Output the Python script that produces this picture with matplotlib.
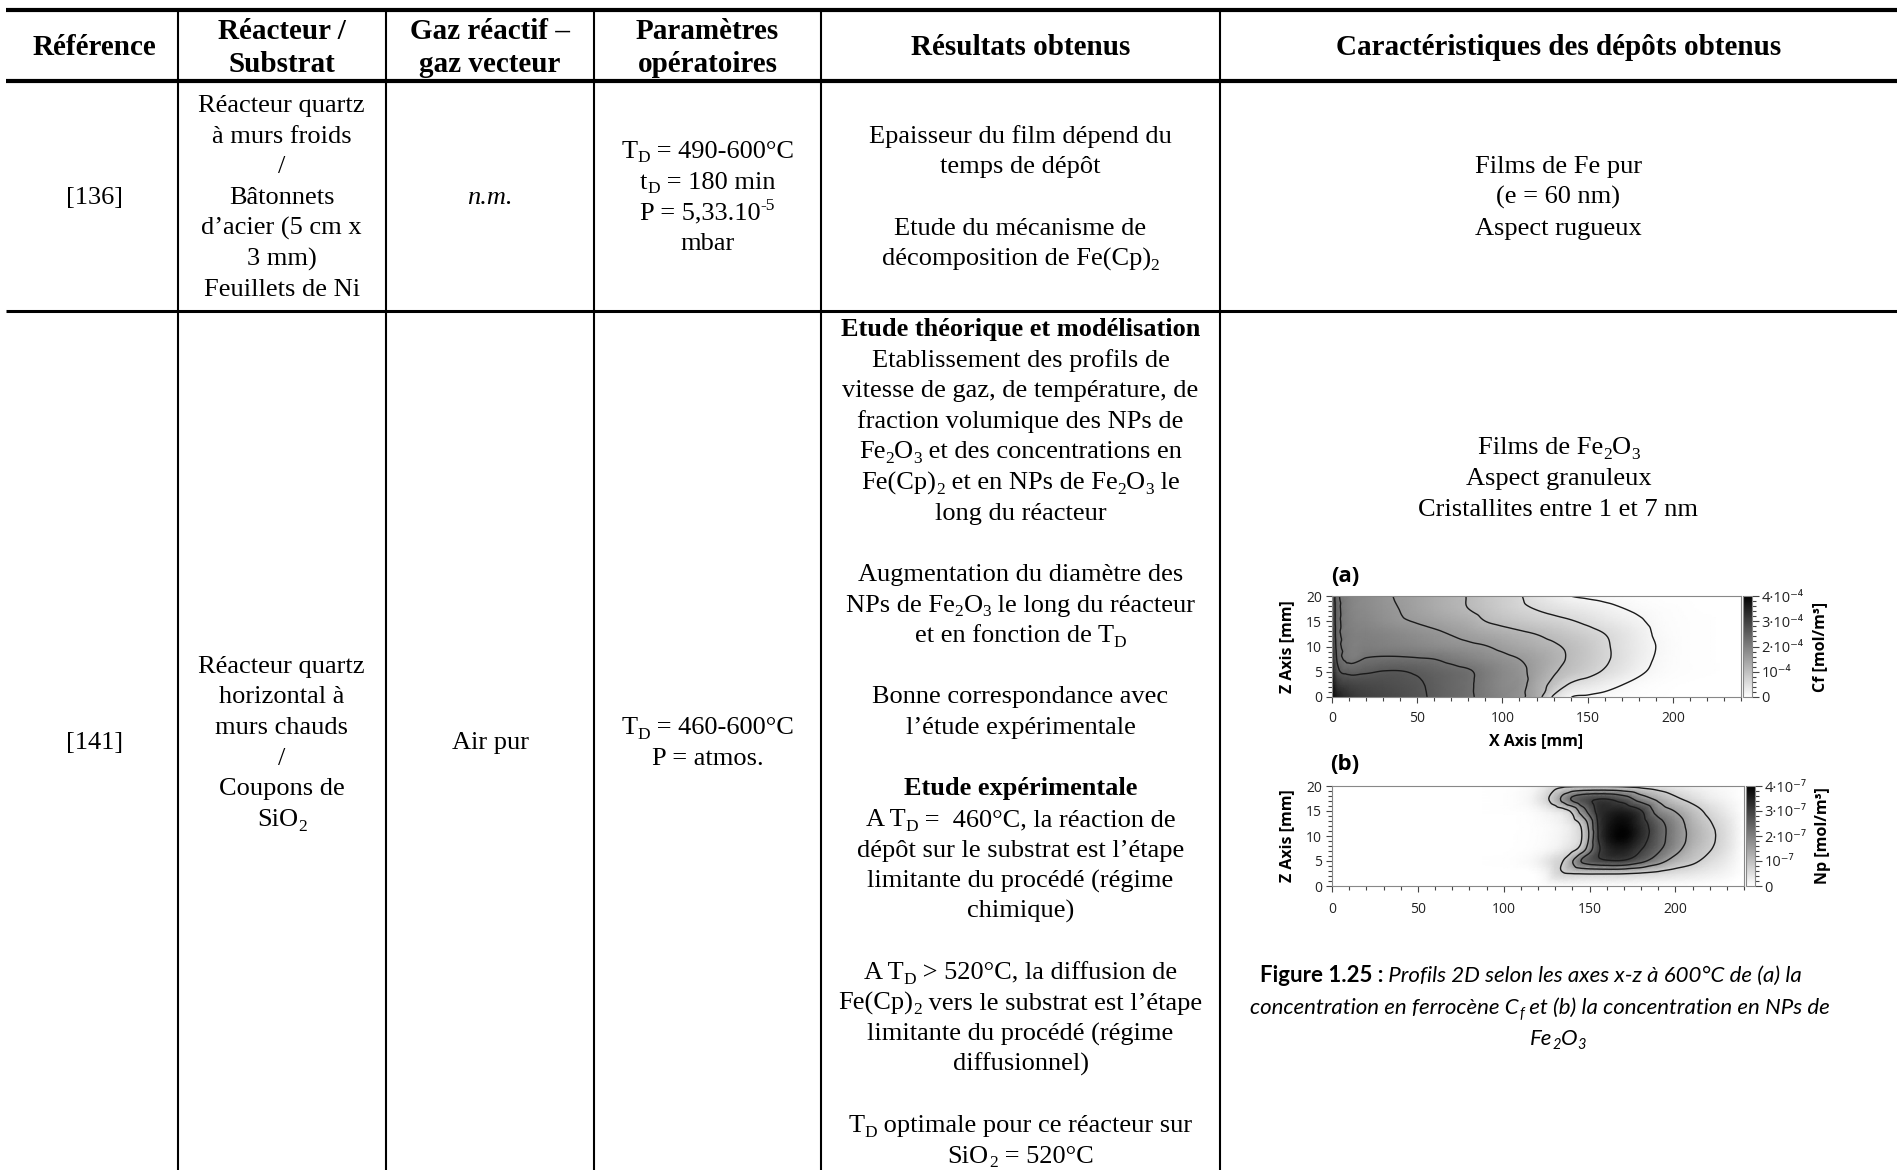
import re
import numpy as np
import matplotlib
matplotlib.use("Agg")
import matplotlib.pyplot as plt
import matplotlib.tri as mtri
from matplotlib.ticker import MultipleLocator
from matplotlib.colors import Normalize
from matplotlib.cm import ScalarMappable

plt.rcParams['font.family'] = ['Open Sans', 'DejaVu Sans']

# ---------------- table content ----------------
HEADERS = [["Référence"], ["Réacteur /", "Substrat"], ["Gaz réactif –", "gaz vecteur"],
           ["Paramètres", "opératoires"], ["Résultats obtenus"],
           ["Caractéristiques des dépôts obtenus"]]

R1_REF = ["[136]"]
R1_REACTOR = ["Réacteur quartz", "à murs froids", "/", "Bâtonnets", "d’acier (5 cm x", "3 mm)", "Feuillets de Ni"]
R1_GAS = ["n.m."]
R1_PARAMS = ["T_{D} = 490-600°C", "t_{D} = 180 min", "P = 5,33.10^{-5}", "mbar"]
R1_RESULTS = ["Epaisseur du film dépend du", "temps de dépôt", "", "Etude du mécanisme de",
              "décomposition de Fe(Cp)_{2}"]
R1_DEPOSITS = ["Films de Fe pur", "(e = 60 nm)", "Aspect rugueux"]

R2_REF = ["[141]"]
R2_REACTOR = ["Réacteur quartz", "horizontal à", "murs chauds", "/", "Coupons de", "SiO_{2}"]
R2_GAS = ["Air pur"]
R2_PARAMS = ["T_{D} = 460-600°C", "P = atmos."]
R2_RESULTS = ["Etude théorique et modélisation", "Etablissement des profils de",
              "vitesse de gaz, de température, de", "fraction volumique des NPs de",
              "Fe_{2}O_{3} et des concentrations en", "Fe(Cp)_{2} et en NPs de Fe_{2}O_{3} le",
              "long du réacteur", "", "Augmentation du diamètre des",
              "NPs de Fe_{2}O_{3} le long du réacteur", "et en fonction de T_{D}", "",
              "Bonne correspondance avec", "l’étude expérimentale", "", "Etude expérimentale",
              "A T_{D} =  460°C, la réaction de", "dépôt sur le substrat est l’étape",
              "limitante du procédé (régime", "chimique)", "", "A T_{D} > 520°C, la diffusion de",
              "Fe(Cp)_{2} vers le substrat est l’étape", "limitante du procédé (régime",
              "diffusionnel)", "", "T_{D} optimale pour ce réacteur sur", "SiO_{2} = 520°C"]
R2_RESULTS_BOLD = [0, 15]
R2_DEPOSITS = ["Films de Fe_{2}O_{3}", "Aspect granuleux", "Cristallites entre 1 et 7 nm"]

CAPTION = [
    [("Figure 1.25 :", "bold", "normal"), (" Profils 2D selon les axes x-z à 600°C de (a) la", "normal", "italic")],
    [("concentration en ferrocène C_{f} et (b) la concentration en NPs de", "normal", "italic")],
    [("Fe_{2}O_{3}", "normal", "italic")],
]

# ---------------- field data ----------------
# (a) ferrocene concentration Cf, in units of 1e-4 mol/m3
CF_X = [0, 3, 10, 20, 30, 40, 50, 60, 70, 80, 90, 100, 110, 120, 130, 140, 150, 160, 170, 180, 190, 200, 210, 220, 240]
CF_Z = [0, 2.5, 5, 7.5, 10, 12.5, 15, 17.5, 20]
CF_ROWS = [
    [4.0, 3.6, 3.2, 3.0, 2.9, 2.8, 2.68, 2.54, 2.4, 2.26, 2.08, 1.9, 1.7, 1.33, 0.53, 0.16, 0.11, 0.08, 0.05, 0.03, 0.02, 0.01, 0.0, 0.0, 0.0],
    [3.8, 3.2, 2.95, 2.85, 2.8, 2.73, 2.65, 2.52, 2.38, 2.26, 2.05, 1.85, 1.75, 1.36, 0.96, 0.55, 0.4, 0.27, 0.16, 0.08, 0.04, 0.02, 0.01, 0.0, 0.0],
    [3.6, 2.8, 2.5, 2.55, 2.62, 2.62, 2.55, 2.45, 2.35, 2.25, 2.05, 1.85, 1.7, 1.45, 1.15, 0.95, 0.75, 0.55, 0.38, 0.2, 0.1, 0.05, 0.03, 0.02, 0.0],
    [3.4, 2.55, 2.1, 2.23, 2.27, 2.27, 2.24, 2.2, 2.08, 1.96, 1.84, 1.72, 1.6, 1.44, 1.24, 1.04, 0.86, 0.66, 0.48, 0.28, 0.13, 0.06, 0.03, 0.02, 0.0],
    [3.2, 2.45, 2.05, 2.04, 2.0, 1.96, 1.9, 1.83, 1.76, 1.69, 1.62, 1.5, 1.38, 1.27, 1.16, 1.02, 0.86, 0.66, 0.48, 0.3, 0.15, 0.07, 0.03, 0.02, 0.0],
    [3.1, 2.4, 2.05, 1.98, 1.92, 1.84, 1.76, 1.68, 1.58, 1.48, 1.38, 1.28, 1.18, 1.09, 0.98, 0.86, 0.74, 0.6, 0.45, 0.28, 0.12, 0.06, 0.03, 0.02, 0.0],
    [3.0, 2.4, 2.0, 1.88, 1.76, 1.65, 1.57, 1.48, 1.38, 1.28, 1.1, 0.99, 0.89, 0.8, 0.72, 0.63, 0.52, 0.4, 0.3, 0.19, 0.09, 0.05, 0.03, 0.02, 0.0],
    [3.0, 2.4, 1.97, 1.82, 1.7, 1.59, 1.46, 1.34, 1.22, 1.1, 0.96, 0.82, 0.69, 0.58, 0.48, 0.39, 0.31, 0.23, 0.16, 0.1, 0.06, 0.04, 0.02, 0.01, 0.0],
    [3.0, 2.35, 1.97, 1.8, 1.67, 1.55, 1.44, 1.31, 1.19, 1.08, 0.91, 0.77, 0.63, 0.43, 0.28, 0.15, 0.1, 0.07, 0.05, 0.03, 0.02, 0.01, 0.01, 0.0, 0.0],
]
CF_LEVELS = [0.15, 0.6, 1.1, 1.6, 2.2, 2.6]
CF_TICKS = [0, 1, 2, 3, 4]
CF_TICKLABELS = ["0", "10⁻⁴", "2·10⁻⁴", "3·10⁻⁴", "4·10⁻⁴"]

# (b) Fe2O3 nanoparticle concentration Np, in units of 1e-7 mol/m3
NP_X = [0, 100, 115, 120, 125, 130, 135, 140, 145, 150, 155, 160, 170, 180, 190, 200, 210, 220, 230, 240]
NP_Z = [0, 2.5, 5, 7.5, 10, 12.5, 15, 17.5, 20]
NP_ROWS = [
    [0, 0, 0, 0, 0, 0, 0, 0, 0, 0, 0, 0, 0, 0, 0, 0, 0, 0, 0, 0],
    [0, 0, 0.0, 0.05, 0.2, 0.55, 0.72, 0.76, 0.78, 0.8, 0.8, 0.8, 0.78, 0.7, 0.6, 0.48, 0.38, 0.27, 0.15, 0],
    [0, 0.02, 0.1, 0.2, 0.38, 0.6, 0.78, 1.45, 2.25, 2.6, 2.8, 2.92, 2.92, 2.45, 1.8, 1.2, 0.88, 0.55, 0.3, 0],
    [0, 0.01, 0.04, 0.07, 0.12, 0.2, 0.35, 0.55, 0.95, 1.9, 2.85, 3.35, 3.55, 3.05, 2.4, 1.75, 1.15, 0.8, 0.45, 0],
    [0, 0.01, 0.03, 0.05, 0.08, 0.13, 0.22, 0.38, 0.68, 1.6, 3.0, 3.6, 3.95, 3.35, 2.55, 1.9, 1.3, 0.88, 0.5, 0],
    [0, 0.01, 0.03, 0.06, 0.09, 0.15, 0.25, 0.45, 0.85, 1.75, 3.05, 3.55, 3.85, 3.3, 2.5, 1.85, 1.22, 0.8, 0.45, 0],
    [0, 0.02, 0.06, 0.12, 0.22, 0.35, 0.52, 0.9, 1.75, 2.5, 3.2, 3.4, 3.5, 3.05, 1.95, 1.47, 1.0, 0.6, 0.3, 0],
    [0, 0.03, 0.15, 0.35, 0.65, 1.1, 1.75, 2.35, 2.65, 2.85, 2.95, 2.95, 2.6, 1.85, 1.3, 0.85, 0.55, 0.3, 0.15, 0],
    [0, 0.02, 0.1, 0.2, 0.4, 0.6, 0.66, 0.66, 0.66, 0.65, 0.65, 0.65, 0.6, 0.5, 0.4, 0.3, 0.2, 0.12, 0.06, 0],
]
NP_LEVELS = [0.75, 1.5, 2.25, 3.0]
NP_TICKS = [0, 1, 2, 3, 4]
NP_TICKLABELS = ["0", "10⁻⁷", "2·10⁻⁷", "3·10⁻⁷", "4·10⁻⁷"]

X_TICKS = [0, 50, 100, 150, 200]
Z_TICKS = [0, 5, 10, 15, 20]

# ---------------- figure ----------------
W, H = 1897, 1170
SERIF = ['Liberation Serif', 'DejaVu Serif']
CAPF = ['Lato', 'DejaVu Sans']

fig = plt.figure(figsize=(W / 100, H / 100), dpi=100)
tab = fig.add_axes([0, 0, 1, 1])
tab.set_xlim(0, W)
tab.set_ylim(H, 0)
tab.axis('off')
renderer = fig.canvas.get_renderer()


def rich(xc, yc, runs, size, family=SERIF):
    em = size * 100 / 72
    base = yc + 0.32 * em
    items = []
    for markup, weight, style in runs:
        for p in re.split(r'(_\{[^}]*\}|\^\{[^}]*\})', markup):
            if not p:
                continue
            if p.startswith('_{'):
                txt, fs, dy = p[2:-1], size * 0.66, 0.17 * em
            elif p.startswith('^{'):
                txt, fs, dy = p[2:-1], size * 0.66, -0.36 * em
            else:
                txt, fs, dy = p, size, 0.0
            t = tab.text(0, base + dy, txt, fontsize=fs, family=family, weight=weight,
                         style=style, ha='left', va='baseline', color='black')
            items.append(t)
    widths = [t.get_window_extent(renderer).width for t in items]
    x = xc - sum(widths) / 2
    for t, w in zip(items, widths):
        t.set_x(x)
        x += w


def cell(xc, yc, lines, size=19, spacing=30.7, weight='normal', style='normal', bold_idx=()):
    n = len(lines)
    for k, ln in enumerate(lines):
        if not ln:
            continue
        y = yc + (k - (n - 1) / 2) * spacing
        rich(xc, y, [(ln, 'bold' if k in bold_idx else weight, style)], size)


# table rules
LEFT = 6
COLS = [177.5, 386, 594, 821, 1220]
for y, lw in [(9.5, 3.0), (81, 3.0), (310.5, 2.2)]:
    tab.plot([LEFT, W], [y, y], color='black', lw=lw, solid_capstyle='butt')
for x in COLS:
    tab.plot([x, x], [9.5, H], color='black', lw=1.5, solid_capstyle='butt')

edges = [11] + COLS + [W]
centers = [(edges[i] + edges[i + 1]) / 2 for i in range(6)]

# header
for xc, lines in zip(centers, HEADERS):
    cell(xc, 46, lines, size=21, spacing=33, weight='bold')

# row 1
r1 = 195.5
cell(centers[0], r1, R1_REF)
cell(centers[1], r1, R1_REACTOR)
cell(centers[2], r1, R1_GAS, style='italic')
cell(centers[3], r1, R1_PARAMS)
cell(centers[4], r1, R1_RESULTS)
cell(centers[5], r1, R1_DEPOSITS)

# row 2
r2 = 741
cell(centers[0], r2, R2_REF)
cell(centers[1], r2, R2_REACTOR)
cell(centers[2], r2, R2_GAS)
cell(centers[3], r2, R2_PARAMS)
cell(centers[4], r2, R2_RESULTS, spacing=30.63, bold_idx=R2_RESULTS_BOLD)
cell(centers[5], 477, R2_DEPOSITS, spacing=31)

# caption
for xc, y, runs in zip([1531, 1540, 1558], [975, 1007, 1038], CAPTION):
    rich(xc, y, runs, 16, family=CAPF)


# ---------------- embedded contour maps ----------------
def px_axes(x0, y0, x1, y1):
    return fig.add_axes([x0 / W, 1 - y1 / H, (x1 - x0) / W, (y1 - y0) / H])


def field(ax, xs, zs, rows, levels, vmax):
    xs = np.asarray(xs, float)
    zs = np.asarray(zs, float)
    V = np.asarray(rows, float)
    XX, ZZ = np.meshgrid(xs, zs)
    nx, nz = len(xs), len(zs)
    tris = []
    for j in range(nz - 1):
        for i in range(nx - 1):
            a = j * nx + i
            tris += [[a, a + 1, a + nx + 1], [a, a + nx + 1, a + nx]]
    tri = mtri.Triangulation(XX.ravel(), ZZ.ravel(), np.array(tris))
    interp = mtri.CubicTriInterpolator(tri, V.ravel(), kind='geom')
    tri_r, v_r = mtri.UniformTriRefiner(tri).refine_field(V.ravel(), triinterpolator=interp, subdiv=3)
    ax.tripcolor(tri_r, v_r, shading='gouraud', cmap='gray_r', vmin=0, vmax=vmax)
    ax.tricontour(tri_r, v_r, levels=levels, colors='#1a1a1a', linewidths=1.0)
    ax.set_xlim(0, 240)
    ax.set_ylim(0, 20)
    ax.set_xticks(X_TICKS)
    ax.set_yticks(Z_TICKS)
    ax.xaxis.set_minor_locator(MultipleLocator(10))
    ax.yaxis.set_minor_locator(MultipleLocator(1))
    ax.tick_params(which='both', direction='out', color='#444', labelsize=10,
                   labelcolor='#222', pad=2.5, width=0.8)
    ax.tick_params(axis='x', which='both', pad=5.5)
    ax.tick_params(which='major', length=4.5)
    ax.tick_params(which='minor', length=3)
    for s in ax.spines.values():
        s.set_color('#888')
        s.set_linewidth(0.8)
    ax.set_ylabel("Z Axis [mm]", fontweight='bold', fontsize=11.5, labelpad=8)


def cbar(cax, vmax, ticks, labels, label):
    sm = ScalarMappable(norm=Normalize(0, vmax), cmap='gray_r')
    cb = fig.colorbar(sm, cax=cax, ticks=ticks)
    cb.set_ticklabels(labels)
    cb.outline.set_edgecolor('#888')
    cb.outline.set_linewidth(0.8)
    cax.yaxis.set_minor_locator(MultipleLocator(vmax / 20))
    cax.tick_params(which='both', direction='out', color='#444', labelsize=10.5,
                    labelcolor='#222', pad=2, width=0.8)
    cax.tick_params(which='major', length=5)
    cax.tick_params(which='minor', length=3)
    cb.set_label(label, fontweight='bold', fontsize=11.5, labelpad=6)


ax_a = px_axes(1332, 596, 1741, 697)
field(ax_a, CF_X, CF_Z, CF_ROWS, CF_LEVELS, 4)
ax_a.set_xlabel("X Axis [mm]", fontweight='bold', fontsize=11.5, labelpad=5)
cax_a = px_axes(1743, 596, 1752, 697)
cbar(cax_a, 4, CF_TICKS, CF_TICKLABELS, "Cf [mol/m³]")

ax_b = px_axes(1332, 786, 1744, 886)
field(ax_b, NP_X, NP_Z, NP_ROWS, NP_LEVELS, 4)
ax_b.tick_params(axis='x', which='both', pad=7)
cax_b = px_axes(1746, 786, 1755, 886)
cbar(cax_b, 4, NP_TICKS, NP_TICKLABELS, "Np [mol/m³]")

tab.text(1345, 577, "(a)", fontsize=16, fontweight='bold', ha='center', va='center')
tab.text(1345, 765, "(b)", fontsize=16, fontweight='bold', ha='center', va='center')

fig.savefig("out.png", dpi=100)
